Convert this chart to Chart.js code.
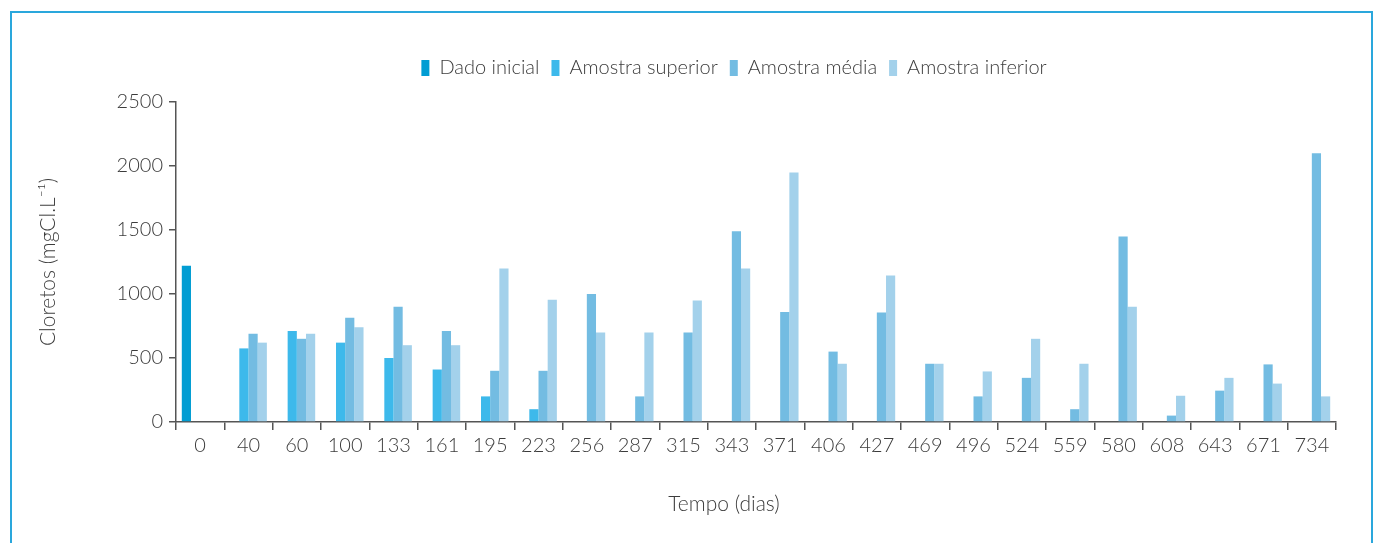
<!DOCTYPE html>
<html>
<head>
<meta charset="utf-8">
<script src="https://cdn.jsdelivr.net/npm/chart.js@4.4.1/dist/chart.umd.min.js"></script>
<style>
  html, body { margin: 0; padding: 0; background: #fff; }
  #frame {
    position: absolute; left: 10px; top: 11px; width: 1359px; height: 560px;
    border: 2px solid #2aa7dc; border-bottom: none;
  }
  #wrap { position: absolute; left: 0; top: 0; width: 1376px; height: 543px; }
</style>
</head>
<body>
<div id="frame"></div>
<div id="wrap"><canvas id="chart" width="1376" height="543"></canvas></div>
<script>
// Tempo (dias)
const categories = ["0", "40", "60", "100", "133", "161", "195", "223", "256", "287", "315", "343",
    "371", "406", "427", "469", "496", "524", "559", "580", "608", "643", "671", "734"];

// Cloretos (mgCl.L-1)
const dadoInicial = [1220, null, null, null, null, null, null, null, null, null, null, null,
    null, null, null, null, null, null, null, null, null, null, null, null];
const amostraSuperior = [null, 575, 710, 620, 500, 410, 200, 100, null, null, null, null,
    null, null, null, null, null, null, null, null, null, null, null, null];
const amostraMedia = [null, 690, 650, 815, 900, 710, 400, 400, 1000, 200, 700, 1490,
    860, 550, 855, 455, 200, 345, 100, 1450, 50, 245, 450, 2100];
const amostraInferior = [null, 620, 690, 740, 600, 600, 1200, 955, 700, 700, 950, 1200,
    1950, 455, 1145, 455, 395, 650, 455, 900, 205, 345, 300, 200];

const yTicks = [0, 500, 1000, 1500, 2000, 2500];

const fontFamily = "Lato, 'Open Sans', sans-serif";
const textColor = "#3c3c3c";
const axisColor = "#555";

// extra space under the legend, and nudge it to the right
const legendSpace = {
    id: "legendSpace",
    beforeInit(chart) {
        const fit = chart.legend.fit;
        chart.legend.fit = function () {
            fit.bind(chart.legend)();
            this.height += 14;
        };
    },
    afterLayout(chart) {
        chart.legend.left += 48;
        chart.legend.right += 48;
    }
};

// x axis title sits a bit left of the plot centre
const xTitle = {
    id: "xTitle",
    afterDraw(chart) {
        const c = chart.ctx;
        const a = chart.chartArea;
        c.save();
        c.font = "300 21px " + fontFamily;
        c.fillStyle = textColor;
        c.textAlign = "center";
        c.textBaseline = "middle";
        c.fillText("Tempo (dias)", (a.left + a.right) / 2 - 32, 504);
        c.restore();
    }
};

const ctx = document.getElementById("chart").getContext("2d");
const chart = new Chart(ctx, {
    type: "bar",
    data: {
        labels: categories,
        datasets: [
            { label: "Dado inicial", data: dadoInicial, backgroundColor: "#019dd3" },
            { label: "Amostra superior", data: amostraSuperior, backgroundColor: "#3db9eb" },
            { label: "Amostra média", data: amostraMedia, backgroundColor: "#73bce2" },
            { label: "Amostra inferior", data: amostraInferior, backgroundColor: "#a3d1eb" }
        ]
    },
    plugins: [legendSpace, xTitle],
    options: {
        responsive: false,
        animation: false,
        categoryPercentage: 0.76,
        barPercentage: 1,
        layout: { padding: { top: 46, left: 36, right: 40, bottom: 28 } },
        plugins: {
            legend: {
                position: "top",
                labels: {
                    boxWidth: 8,
                    boxHeight: 16,
                    padding: 12,
                    color: textColor,
                    font: { family: fontFamily, size: 20, weight: "300" }
                }
            },
            tooltip: { enabled: false }
        },
        scales: {
            x: {
                grid: { display: true, drawOnChartArea: false, drawTicks: true, tickLength: 8, color: axisColor, lineWidth: 1.5, offset: true },
                border: { display: true, color: axisColor, width: 1.5 },
                ticks: { color: textColor, padding: 4, autoSkip: false, maxRotation: 0, font: { family: fontFamily, size: 20, weight: "300" } },
                title: { display: false },
                afterFit: (s) => { s.height = 93; }
            },
            y: {
                min: 0,
                max: 2500,
                afterBuildTicks: (s) => { s.ticks = yTicks.map(v => ({ value: v })); },
                grid: { display: true, drawOnChartArea: false, drawTicks: true, tickLength: 7, color: axisColor, lineWidth: 1.5 },
                border: { display: true, color: axisColor, width: 1.5 },
                ticks: {
                    color: textColor, padding: 6,
                    font: { family: fontFamily, size: 20, weight: "300" },
                    callback: (v) => String(v)
                },
                title: { display: true, text: "Cloretos (mgCl.L⁻¹)", color: textColor, padding: 0, font: { family: fontFamily, size: 21, weight: "300" } },
                afterFit: (s) => { s.width = 140; }
            }
        }
    }
});
</script>
</body>
</html>
